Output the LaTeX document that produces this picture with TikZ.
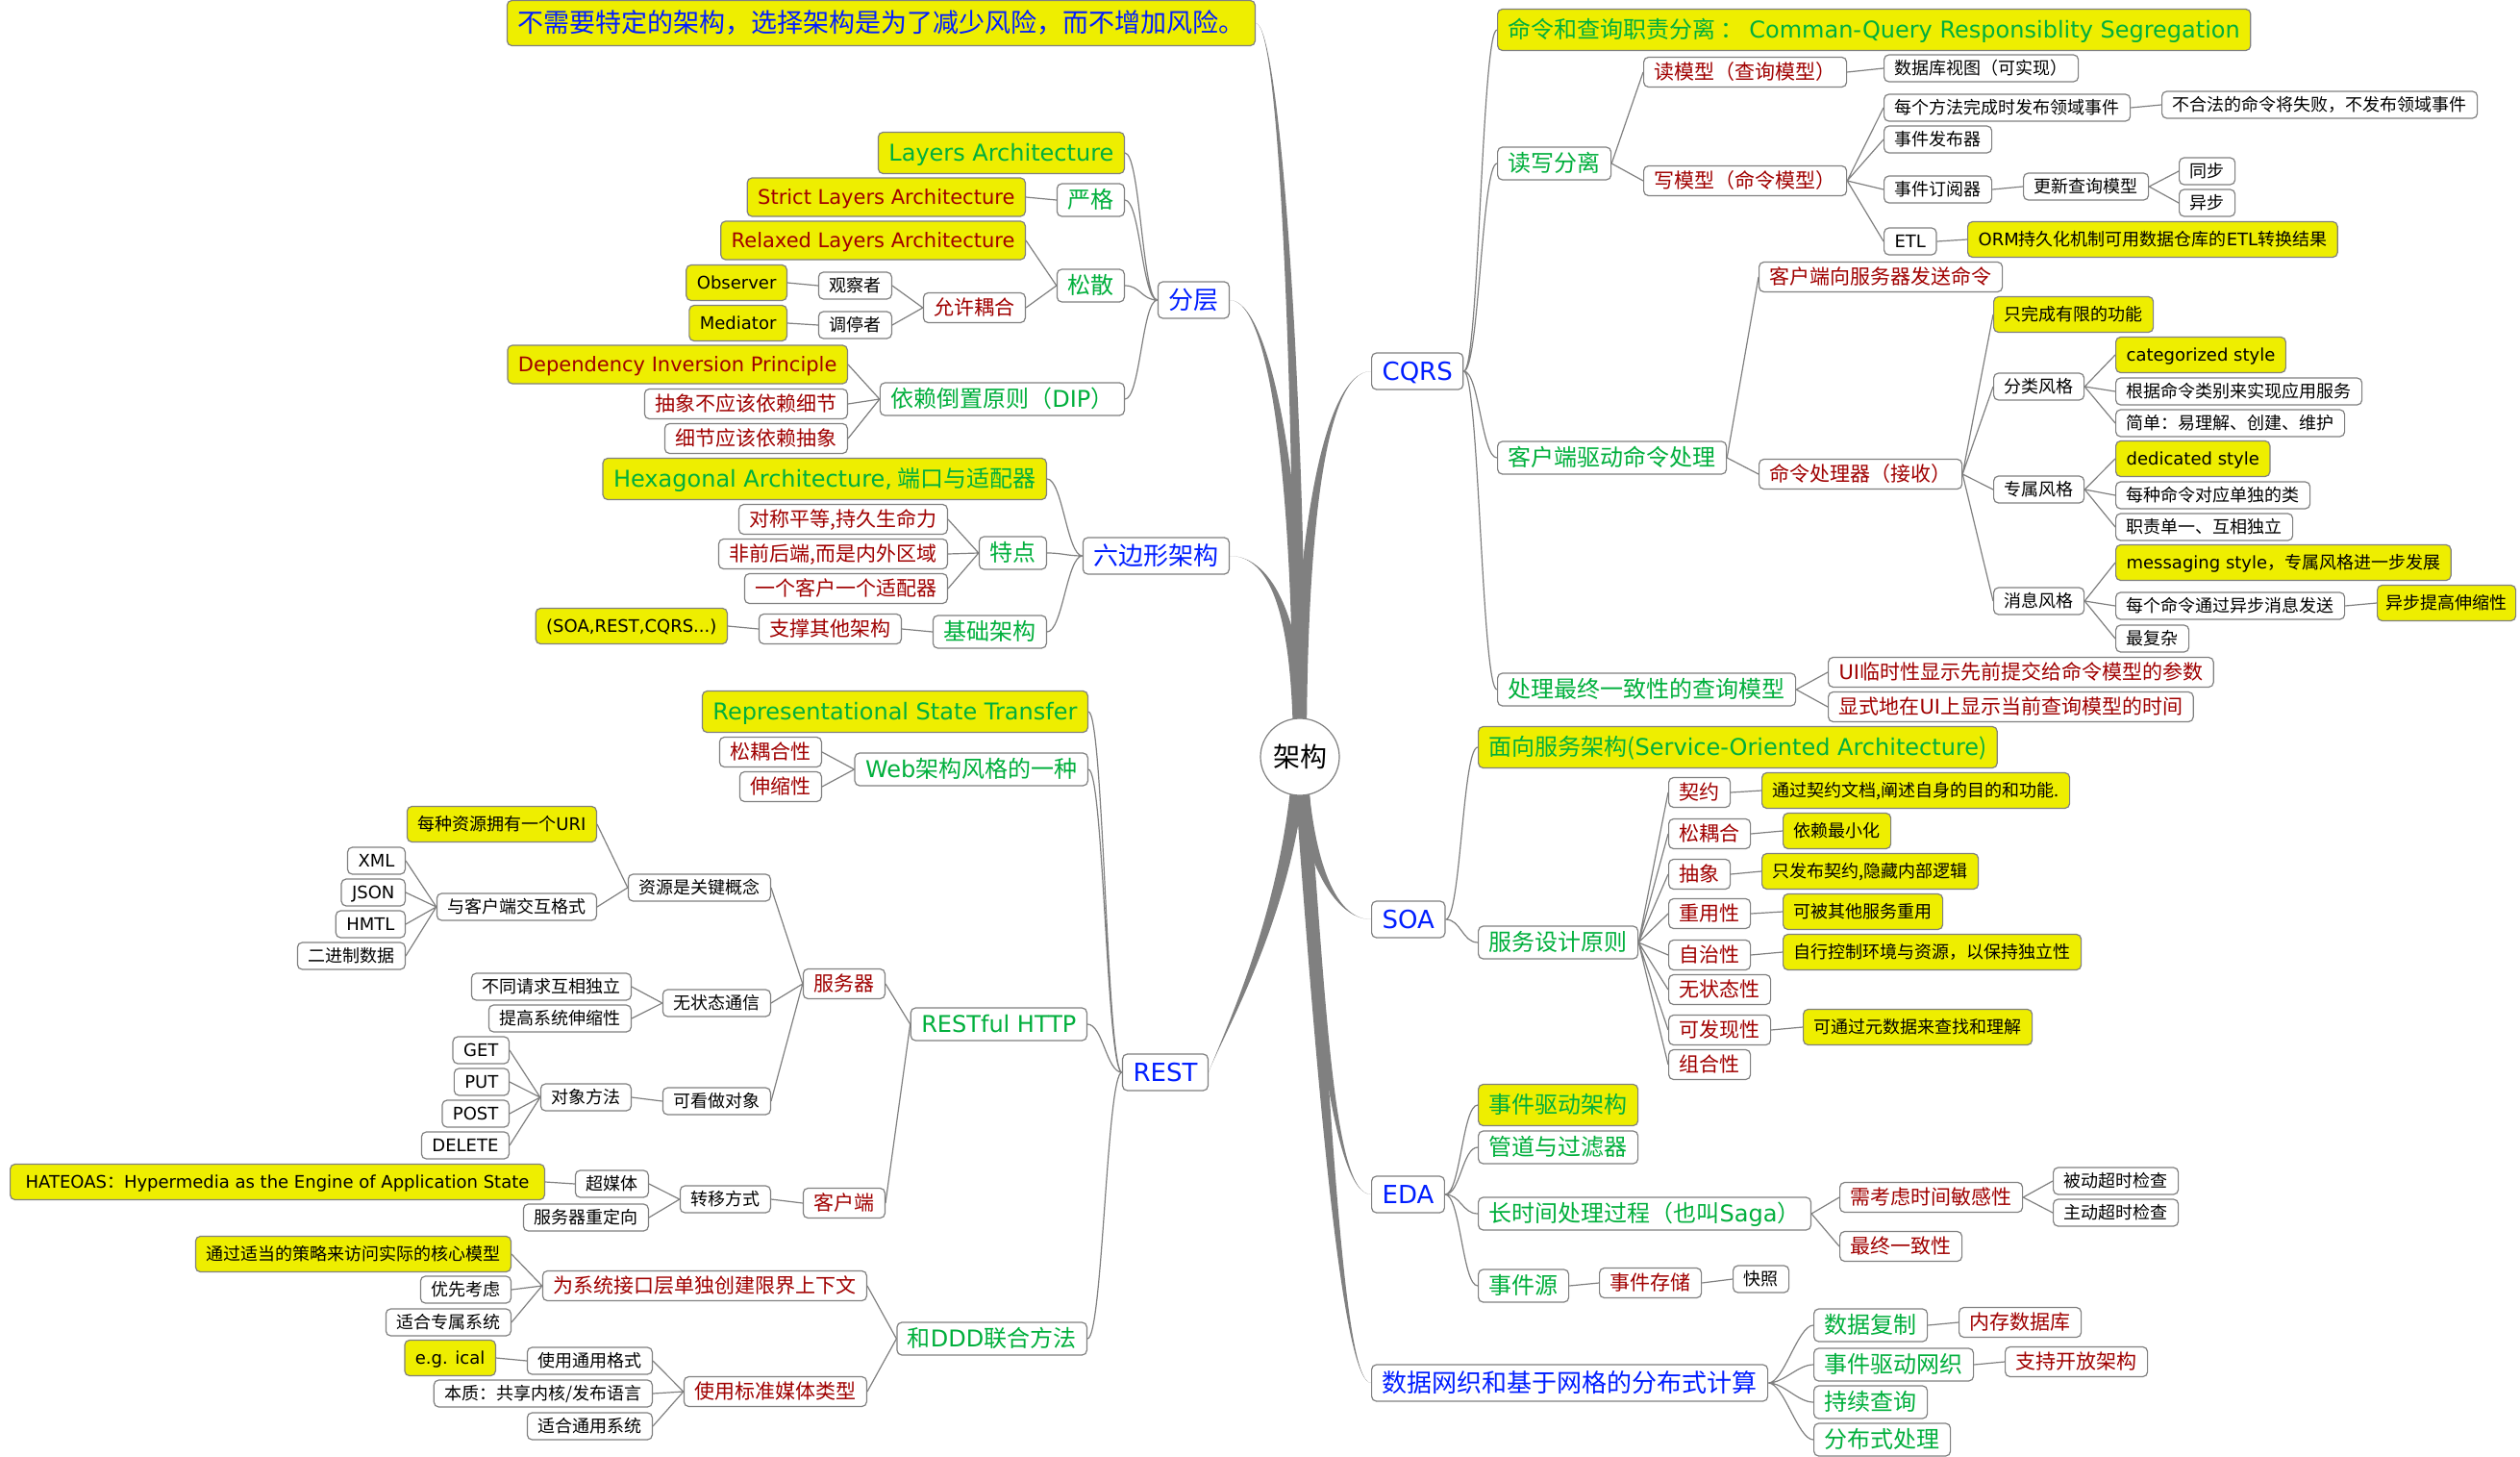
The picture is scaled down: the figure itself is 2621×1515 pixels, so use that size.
\documentclass[tikz,border=0pt]{standalone}
\usepackage{fontspec}
\setmainfont{Noto Sans CJK SC}
\newfontfamily\latinfont{DejaVu Sans}
\newcommand{\en}[1]{{\latinfont #1}}
\usetikzlibrary{shapes.geometric,backgrounds}
\definecolor{mmyellow}{RGB}{238,238,0}
\definecolor{mmblue}{RGB}{0,30,255}
\definecolor{mmgreen}{RGB}{0,175,60}
\definecolor{mmred}{RGB}{160,0,0}
\definecolor{mmline}{RGB}{128,128,128}
\begin{document}
\begin{tikzpicture}[x=1pt,y=-1pt,
    box/.style={draw=mmline,line width=1.2pt,rounded corners=5pt,fill=white,inner xsep=11pt},
    l1/.style={box,text=mmblue,font=\fontsize{26}{30}\selectfont,text height=22.4pt,text depth=3.6pt,inner ysep=6pt},
    l2/.style={box,text=mmgreen,font=\fontsize{24}{28}\selectfont,text height=20.6pt,text depth=3.4pt,inner ysep=5pt},
    l3/.style={box,text=mmred,font=\fontsize{21}{25}\selectfont,text height=18pt,text depth=3pt,inner ysep=5pt},
    l4/.style={box,text=black,font=\fontsize{18}{22}\selectfont,text height=15.5pt,text depth=2.5pt,inner ysep=5pt},
    hl/.style={fill=mmyellow,inner ysep=9.5pt},
    lhs/.style={anchor=east},
    rhs/.style={anchor=west},
    link/.style={draw=mmline,line width=1.2pt},
    lcurve/.style={to path={.. controls +(-16,0) and +(16,0) .. (\tikztotarget)}},
    rcurve/.style={to path={.. controls +(16,0) and +(-16,0) .. (\tikztotarget)}},
    trunk/.style={fill=mmline}]
\useasboundingbox (0,0) rectangle (2621,1515);

% Centre and first level
\node[draw=mmline,line width=1.2pt,ellipse,fill=white,minimum width=82pt,minimum height=80pt,inner sep=0pt,font=\fontsize{28}{32}\selectfont] (arch) at (1352,787) {架构};
\node[box,lhs,fill=mmyellow,text=mmblue,font=\fontsize{27}{31}\selectfont,text height=23.2pt,text depth=3.8pt,inner ysep=10pt] (motto) at (1306,24) {不需要特定的架构，选择架构是为了减少风险，而不增加风险。};
\node[l1,lhs] (layer) at (1279,312) {分层};
\node[l1,lhs] (hexa) at (1279,578) {六边形架构};
\node[l1,lhs] (rest) at (1257,1115) {\en{REST}};
\node[l1,rhs] (cqrs) at (1426,386) {\en{CQRS}};
\node[l1,rhs] (soa) at (1426,956) {\en{SOA}};
\node[l1,rhs] (eda) at (1426,1242) {\en{EDA}};
\node[l1,rhs] (grid) at (1426,1438) {数据网织和基于网格的分布式计算};

% Thick branches out of the centre
\begin{scope}[on background layer]
  \fill[white] (0,0) rectangle (2621,1515);
  \fill[trunk] ([xshift=-6pt]arch.center) .. controls +(0,-380) and +(25,0) .. (motto.east) .. controls +(25,0) and +(0,-380) .. ([xshift=6pt]arch.center) -- cycle;
  \fill[trunk] ([xshift=-7pt]arch.center) .. controls +(0,-300) and +(40,0) .. (layer.east) .. controls +(40,0) and +(0,-300) .. ([xshift=7pt]arch.center) -- cycle;
  \fill[trunk] ([xshift=-7pt]arch.center) .. controls +(0,-140) and +(45,0) .. (hexa.east) .. controls +(45,0) and +(0,-140) .. ([xshift=7pt]arch.center) -- cycle;
  \fill[trunk] ([xshift=-7pt]arch.center) .. controls +(0,-220) and +(-50,0) .. (cqrs.west) .. controls +(-50,0) and +(0,-220) .. ([xshift=7pt]arch.center) -- cycle;
  \fill[trunk] ([xshift=-7pt]arch.center) .. controls +(-10,160) and +(15,-40) .. (rest.east) .. controls +(15,-40) and +(-10,160) .. ([xshift=7pt]arch.center) -- cycle;
  \fill[trunk] ([xshift=-7pt]arch.center) .. controls +(5,100) and +(-40,0) .. (soa.west) .. controls +(-40,0) and +(5,100) .. ([xshift=7pt]arch.center) -- cycle;
  \fill[trunk] ([xshift=-7pt]arch.center) .. controls +(20,250) and +(-40,0) .. (eda.west) .. controls +(-40,0) and +(20,250) .. ([xshift=7pt]arch.center) -- cycle;
  \fill[trunk] ([xshift=-7pt]arch.center) .. controls +(25,350) and +(-30,0) .. (grid.west) .. controls +(-30,0) and +(25,350) .. ([xshift=7pt]arch.center) -- cycle;
\end{scope}

% Layers
\node[l2,hl,lhs] (layEn) at (1170,159) {\en{Layers Architecture}};
\node[l2,lhs] (strict) at (1170,208) {严格};
\node[l2,lhs] (loose) at (1170,297) {松散};
\node[l2,lhs] (dip) at (1170,415) {依赖倒置原则（\en{DIP}）};
\node[l3,hl,lhs] (strictEn) at (1067,205) {\en{Strict Layers Architecture}};
\node[l3,hl,lhs] (looseEn) at (1067,250) {\en{Relaxed Layers Architecture}};
\node[l3,lhs] (allow) at (1067,320) {允许耦合};
\node[l4,lhs] (obs) at (928,297) {观察者};
\node[l4,lhs] (medi) at (928,338) {调停者};
\node[l4,hl,lhs] (obsEn) at (819,294) {\en{Observer}};
\node[l4,hl,lhs] (mediEn) at (819,336) {\en{Mediator}};
\node[l3,hl,lhs] (dipEn) at (882,379) {\en{Dependency Inversion Principle}};
\node[l3,lhs] (dip1) at (882,420) {抽象不应该依赖细节};
\node[l3,lhs] (dip2) at (882,456) {细节应该依赖抽象};
\draw[link] (layer.west) to[lcurve] (layEn.east) (layer.west) to[lcurve] (strict.east)
  (layer.west) to[lcurve] (loose.east) (layer.west) to[lcurve] (dip.east);
\draw[link] (strict.west) -- (strictEn.east)
  (loose.west) -- (looseEn.east) (loose.west) -- (allow.east)
  (allow.west) -- (obs.east) (allow.west) -- (medi.east)
  (obs.west) -- (obsEn.east) (medi.west) -- (mediEn.east)
  (dip.west) -- (dipEn.east) (dip.west) -- (dip1.east) (dip.west) -- (dip2.east);

% Hexagonal
\node[l2,hl,lhs] (hexEn) at (1089,498) {\en{Hexagonal Architecture,} 端口与适配器};
\node[l2,lhs] (trait) at (1089,575) {特点};
\node[l2,lhs] (base) at (1089,657) {基础架构};
\node[l3,lhs] (tr1) at (986,540) {对称平等,持久生命力};
\node[l3,lhs] (tr2) at (986,576) {非前后端,而是内外区域};
\node[l3,lhs] (tr3) at (986,612) {一个客户一个适配器};
\node[l3,lhs] (support) at (938,654) {支撑其他架构};
\node[l4,hl,lhs] (others) at (757,651) {\en{(SOA,REST,CQRS...)}};
\draw[link] (hexa.west) to[lcurve] (hexEn.east) (hexa.west) to[lcurve] (trait.east)
  (hexa.west) to[lcurve] (base.east);
\draw[link] (trait.west) -- (tr1.east) (trait.west) -- (tr2.east) (trait.west) -- (tr3.east)
  (base.west) -- (support.east) (support.west) -- (others.east);

% REST
\node[l2,hl,lhs] (restEn) at (1132,740) {\en{Representational State Transfer}};
\node[l2,lhs] (web) at (1132,800) {\en{Web}架构风格的一种};
\node[l2,lhs] (http) at (1131,1065) {\en{RESTful HTTP}};
\node[l2,lhs] (ddd) at (1131,1392) {和\en{DDD}联合方法};
\node[l3,lhs] (web1) at (855,782) {松耦合性};
\node[l3,lhs] (web2) at (855,818) {伸缩性};
\node[l3,lhs] (server) at (921,1023) {服务器};
\node[l3,lhs] (client) at (921,1251) {客户端};
\node[l4,lhs] (res) at (802,923) {资源是关键概念};
\node[l4,lhs] (stateless) at (802,1043) {无状态通信};
\node[l4,lhs] (asobj) at (802,1145) {可看做对象};
\node[l4,hl,lhs] (uri) at (621,857) {每种资源拥有一个\en{URI}};
\node[l4,lhs] (fmt) at (621,943) {与客户端交互格式};
\node[l4,lhs] (xml) at (422,895) {\en{XML}};
\node[l4,lhs] (json) at (422,928) {\en{JSON}};
\node[l4,lhs] (html) at (422,961) {\en{HMTL}};
\node[l4,lhs] (bin) at (422,994) {二进制数据};
\node[l4,lhs] (sl1) at (657,1026) {不同请求互相独立};
\node[l4,lhs] (sl2) at (657,1059) {提高系统伸缩性};
\node[l4,lhs] (meth) at (657,1141) {对象方法};
\node[l4,lhs] (get) at (530,1092) {\en{GET}};
\node[l4,lhs] (put) at (530,1125) {\en{PUT}};
\node[l4,lhs] (post) at (530,1158) {\en{POST}};
\node[l4,lhs] (del) at (530,1191) {\en{DELETE}};
\node[l4,lhs] (trans) at (802,1247) {转移方式};
\node[l4,lhs] (hyper) at (675,1231) {超媒体};
\node[l4,lhs] (redir) at (675,1266) {服务器重定向};
\node[l4,hl,lhs,inner xsep=16pt] (hateoas) at (567,1229) {\en{HATEOAS}：\en{Hypermedia as the Engine of Application State}};
\node[l3,lhs] (ctx) at (902,1337) {为系统接口层单独创建限界上下文};
\node[l3,lhs] (media) at (902,1447) {使用标准媒体类型};
\node[l4,hl,lhs] (ctx1) at (532,1304) {通过适当的策略来访问实际的核心模型};
\node[l4,lhs] (ctx2) at (532,1341) {优先考虑};
\node[l4,lhs] (ctx3) at (532,1375) {适合专属系统};
\node[l4,lhs] (m1) at (679,1415) {使用通用格式};
\node[l4,hl,lhs] (ical) at (516,1412) {\en{e.g. ical}};
\node[l4,lhs] (m2) at (679,1449) {本质：共享内核/发布语言};
\node[l4,lhs] (m3) at (679,1483) {适合通用系统};
\draw[link] (rest.west) to[lcurve] (restEn.east) (rest.west) to[lcurve] (web.east)
  (rest.west) to[lcurve] (http.east) (rest.west) to[lcurve] (ddd.east);
\draw[link] (web.west) -- (web1.east) (web.west) -- (web2.east)
  (http.west) -- (server.east) (http.west) -- (client.east)
  (server.west) -- (res.east) (server.west) -- (stateless.east) (server.west) -- (asobj.east)
  (res.west) -- (uri.east) (res.west) -- (fmt.east)
  (fmt.west) -- (xml.east) (fmt.west) -- (json.east) (fmt.west) -- (html.east) (fmt.west) -- (bin.east)
  (stateless.west) -- (sl1.east) (stateless.west) -- (sl2.east)
  (asobj.west) -- (meth.east)
  (meth.west) -- (get.east) (meth.west) -- (put.east) (meth.west) -- (post.east) (meth.west) -- (del.east)
  (client.west) -- (trans.east) (trans.west) -- (hyper.east) (trans.west) -- (redir.east)
  (hyper.west) -- (hateoas.east)
  (ddd.west) -- (ctx.east) (ddd.west) -- (media.east)
  (ctx.west) -- (ctx1.east) (ctx.west) -- (ctx2.east) (ctx.west) -- (ctx3.east)
  (media.west) -- (m1.east) (media.west) -- (m2.east) (media.west) -- (m3.east)
  (m1.west) -- (ical.east);

% CQRS
\node[l2,hl,rhs] (cqrsEn) at (1557,31) {命令和查询职责分离 ： \en{Comman-Query Responsiblity Segregation}};
\node[l2,rhs] (rw) at (1557,170) {读写分离};
\node[l2,rhs] (drive) at (1557,476) {客户端驱动命令处理};
\node[l2,rhs] (final) at (1557,717) {处理最终一致性的查询模型};
\node[l3,rhs] (readM) at (1709,75) {读模型（查询模型）};
\node[l4,rhs] (dbview) at (1959,71) {数据库视图（可实现）};
\node[l3,rhs] (writeM) at (1709,188) {写模型（命令模型）};
\node[l4,rhs] (pub) at (1959,112) {每个方法完成时发布领域事件};
\node[l4,rhs] (illegal) at (2248,109) {不合法的命令将失败，不发布领域事件};
\node[l4,rhs] (publisher) at (1959,145) {事件发布器};
\node[l4,rhs] (subscriber) at (1959,197) {事件订阅器};
\node[l4,rhs] (upd) at (2104,194) {更新查询模型};
\node[l4,rhs] (sync) at (2266,178) {同步};
\node[l4,rhs] (async) at (2266,211) {异步};
\node[l4,rhs] (etl) at (1959,251) {\en{ETL}};
\node[l4,hl,rhs] (etlEn) at (2046,249) {\en{ORM}持久化机制可用数据仓库的\en{ETL}转换结果};
\node[l3,rhs] (send) at (1829,288) {客户端向服务器发送命令};
\node[l3,rhs] (handler) at (1829,493) {命令处理器（接收）};
\node[l4,hl,rhs] (limited) at (2073,327) {只完成有限的功能};
\node[l4,rhs] (catS) at (2073,402) {分类风格};
\node[l4,hl,rhs] (catEn) at (2200,369) {\en{categorized style}};
\node[l4,rhs] (cat1) at (2200,407) {根据命令类别来实现应用服务};
\node[l4,rhs] (cat2) at (2200,440) {简单：易理解、创建、维护};
\node[l4,rhs] (dedS) at (2073,509) {专属风格};
\node[l4,hl,rhs] (dedEn) at (2200,477) {\en{dedicated style}};
\node[l4,rhs] (ded1) at (2200,515) {每种命令对应单独的类};
\node[l4,rhs] (ded2) at (2200,548) {职责单一、互相独立};
\node[l4,rhs] (msgS) at (2073,625) {消息风格};
\node[l4,hl,rhs] (msgEn) at (2200,585) {\en{messaging style}，专属风格进一步发展};
\node[l4,rhs] (msg1) at (2200,630) {每个命令通过异步消息发送};
\node[l4,hl,rhs,inner xsep=9pt] (msgScale) at (2472,627) {异步提高伸缩性};
\node[l4,rhs] (msg2) at (2200,664) {最复杂};
\node[l3,rhs] (ui1) at (1901,699) {\en{UI}临时性显示先前提交给命令模型的参数};
\node[l3,rhs] (ui2) at (1901,735) {显式地在\en{UI}上显示当前查询模型的时间};
\draw[link] (cqrs.east) to[rcurve] (cqrsEn.west) (cqrs.east) to[rcurve] (rw.west)
  (cqrs.east) to[rcurve] (drive.west) (cqrs.east) to[rcurve] (final.west);
\draw[link] (rw.east) -- (readM.west) (rw.east) -- (writeM.west)
  (readM.east) -- (dbview.west)
  (writeM.east) -- (pub.west) (writeM.east) -- (publisher.west)
  (writeM.east) -- (subscriber.west) (writeM.east) -- (etl.west)
  (pub.east) -- (illegal.west) (subscriber.east) -- (upd.west)
  (upd.east) -- (sync.west) (upd.east) -- (async.west) (etl.east) -- (etlEn.west)
  (drive.east) -- (send.west) (drive.east) -- (handler.west)
  (handler.east) -- (limited.west) (handler.east) -- (catS.west)
  (handler.east) -- (dedS.west) (handler.east) -- (msgS.west)
  (catS.east) -- (catEn.west) (catS.east) -- (cat1.west) (catS.east) -- (cat2.west)
  (dedS.east) -- (dedEn.west) (dedS.east) -- (ded1.west) (dedS.east) -- (ded2.west)
  (msgS.east) -- (msgEn.west) (msgS.east) -- (msg1.west) (msgS.east) -- (msg2.west)
  (msg1.east) -- (msgScale.west)
  (final.east) -- (ui1.west) (final.east) -- (ui2.west);

% SOA
\node[l2,hl,rhs] (soaEn) at (1537,777) {面向服务架构(\en{Service-Oriented Architecture})};
\node[l2,rhs] (principle) at (1537,980) {服务设计原则};
\node[l3,rhs] (p1) at (1735,824) {契约};
\node[l3,rhs] (p2) at (1735,867) {松耦合};
\node[l3,rhs] (p3) at (1735,909) {抽象};
\node[l3,rhs] (p4) at (1735,950) {重用性};
\node[l3,rhs] (p5) at (1735,993) {自治性};
\node[l3,rhs] (p6) at (1735,1029) {无状态性};
\node[l3,rhs] (p7) at (1735,1071) {可发现性};
\node[l3,rhs] (p8) at (1735,1107) {组合性};
\node[l4,hl,rhs] (p1y) at (1832,822) {通过契约文档,阐述自身的目的和功能.};
\node[l4,hl,rhs] (p2y) at (1854,864) {依赖最小化};
\node[l4,hl,rhs] (p3y) at (1832,906) {只发布契约,隐藏内部逻辑};
\node[l4,hl,rhs] (p4y) at (1854,948) {可被其他服务重用};
\node[l4,hl,rhs] (p5y) at (1854,990) {自行控制环境与资源，以保持独立性};
\node[l4,hl,rhs] (p7y) at (1875,1068) {可通过元数据来查找和理解};
\draw[link] (soa.east) to[rcurve] (soaEn.west) (soa.east) to[rcurve] (principle.west);
\draw[link] (principle.east) -- (p1.west) (principle.east) -- (p2.west)
  (principle.east) -- (p3.west) (principle.east) -- (p4.west)
  (principle.east) -- (p5.west) (principle.east) -- (p6.west)
  (principle.east) -- (p7.west) (principle.east) -- (p8.west)
  (p1.east) -- (p1y.west) (p2.east) -- (p2y.west) (p3.east) -- (p3y.west)
  (p4.east) -- (p4y.west) (p5.east) -- (p5y.west) (p7.east) -- (p7y.west);

% EDA
\node[l2,hl,rhs] (edaEn) at (1537,1149) {事件驱动架构};
\node[l2,rhs] (pipe) at (1537,1193) {管道与过滤器};
\node[l2,rhs] (saga) at (1537,1262) {长时间处理过程（也叫\en{Saga}）};
\node[l2,rhs] (esrc) at (1537,1337) {事件源};
\node[l3,rhs] (timing) at (1913,1245) {需考虑时间敏感性};
\node[l4,rhs] (passive) at (2135,1228) {被动超时检查};
\node[l4,rhs] (active) at (2135,1261) {主动超时检查};
\node[l3,rhs] (eventual) at (1913,1296) {最终一致性};
\node[l3,rhs] (store) at (1663,1334) {事件存储};
\node[l4,rhs] (snap) at (1802,1330) {快照};
\draw[link] (eda.east) to[rcurve] (edaEn.west) (eda.east) to[rcurve] (pipe.west)
  (eda.east) to[rcurve] (saga.west) (eda.east) to[rcurve] (esrc.west);
\draw[link] (saga.east) -- (timing.west) (saga.east) -- (eventual.west)
  (timing.east) -- (passive.west) (timing.east) -- (active.west)
  (esrc.east) -- (store.west) (store.east) -- (snap.west);

% Data fabric and grid computing
\node[l2,rhs] (repl) at (1886,1378) {数据复制};
\node[l2,rhs] (edn) at (1886,1419) {事件驱动网织};
\node[l2,rhs] (cq) at (1886,1458) {持续查询};
\node[l2,rhs] (dist) at (1886,1497) {分布式处理};
\node[l3,rhs] (memdb) at (2037,1375) {内存数据库};
\node[l3,rhs] (openA) at (2085,1416) {支持开放架构};
\draw[link] (grid.east) to[rcurve] (repl.west) (grid.east) to[rcurve] (edn.west)
  (grid.east) to[rcurve] (cq.west) (grid.east) to[rcurve] (dist.west);
\draw[link] (repl.east) -- (memdb.west) (edn.east) -- (openA.west);
\end{tikzpicture}
\end{document}
